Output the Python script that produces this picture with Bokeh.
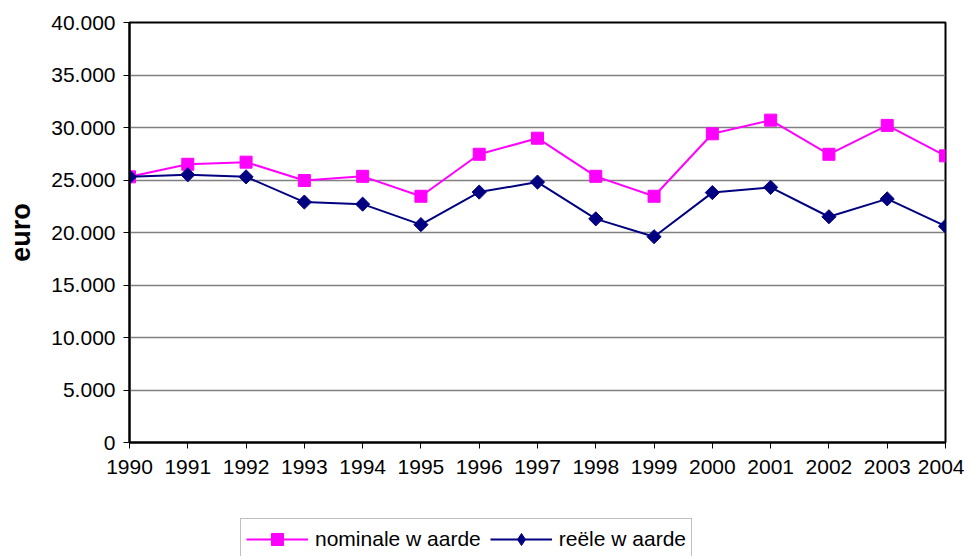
import math
from bokeh.plotting import figure
from bokeh.layouts import column
from bokeh.models import FixedTicker, Legend, LegendItem
from bokeh.embed import file_html
from bokeh.resources import INLINE

years = list(range(1990, 2005))
nominale = [25300, 26500, 26700, 24950, 25350, 23450, 27450, 28980, 25350, 23450, 29400, 30700, 27450, 30200, 27300]
reele = [25300, 25500, 25300, 22900, 22700, 20750, 23850, 24800, 21300, 19600, 23800, 24300, 21500, 23200, 20600]
y_ticks = [0, 5000, 10000, 15000, 20000, 25000, 30000, 35000, 40000]
y_tick_labels = ["0", "5.000", "10.000", "15.000", "20.000", "25.000", "30.000", "35.000", "40.000"]
series_names = ["nominale w aarde", "reële w aarde"]

FONT = "Liberation Sans"
PINK = "#FF00FF"
NAVY = "#000080"

p = figure(width=964, height=500, output_backend="svg", toolbar_location=None,
           x_range=(1990, 2004), y_range=(0, 40000),
           min_border_left=129, min_border_right=19, min_border_top=22, min_border_bottom=58)
p.background_fill_color = "white"
p.border_fill_color = "white"
p.outline_line_color = "black"
p.outline_line_width = 2

p.xgrid.visible = False
p.ygrid.grid_line_color = "#808080"
p.ygrid.grid_line_width = 1.5
p.ygrid.ticker = FixedTicker(ticks=y_ticks)

p.yaxis.ticker = FixedTicker(ticks=y_ticks)
p.yaxis.major_label_overrides = {t: l for t, l in zip(y_ticks, y_tick_labels)}
p.xaxis.ticker = FixedTicker(ticks=years)
p.xaxis.major_label_overrides = {y: str(y) for y in years}

for ax in (p.xaxis, p.yaxis):
    ax.axis_line_color = "black"
    ax.axis_line_width = 2
    ax.major_tick_line_color = "black"
    ax.major_tick_line_width = 1
    ax.major_tick_in = 0
    ax.major_tick_out = 6
    ax.minor_tick_line_color = None
    ax.major_label_text_font = FONT
    ax.major_label_text_font_size = "21px"
    ax.major_label_text_color = "black"

p.xaxis.major_label_standoff = 11
p.yaxis.major_label_standoff = 8
p.yaxis.axis_label = "euro"
p.yaxis.axis_label_text_font = FONT
p.yaxis.axis_label_text_font_style = "bold"
p.yaxis.axis_label_text_font_size = "27px"
p.yaxis.axis_label_text_color = "black"
p.yaxis.axis_label_standoff = 12

p.line(years, nominale, line_color=PINK, line_width=2)
p.scatter(years, nominale, marker="square", size=12, fill_color=PINK, line_color=PINK)
p.line(years, reele, line_color=NAVY, line_width=2)
p.scatter(years, reele, marker="square", size=10, angle=math.pi / 4,
          fill_color=NAVY, line_color=NAVY)

# legend strip below the chart (proxy renderers hold no visible data)
lg = figure(width=964, height=56, output_backend="svg", toolbar_location=None,
            x_range=(0, 1), y_range=(0, 1), x_axis_location=None, y_axis_location=None,
            min_border_left=0, min_border_right=0, min_border_top=0, min_border_bottom=0)
lg.grid.visible = False
lg.outline_line_color = None
lg.background_fill_color = "white"
lg.border_fill_color = "white"

nan = float("nan")
el1 = lg.line([nan], [nan], line_color=PINK, line_width=2)
es1 = lg.scatter([nan], [nan], marker="square", fill_color=PINK, line_color=PINK)
el2 = lg.line([nan], [nan], line_color=NAVY, line_width=2)
es2 = lg.scatter([nan], [nan], marker="diamond", fill_color=NAVY, line_color=NAVY)

legend = Legend(items=[LegendItem(label=series_names[0], renderers=[el1, es1]),
                       LegendItem(label=series_names[1], renderers=[el2, es2])],
                orientation="horizontal", location=(111, -4),
                label_text_font=FONT, label_text_font_size="21px", label_text_color="black",
                glyph_width=62, glyph_height=30, label_standoff=7, spacing=9,
                padding=5, margin=0,
                border_line_color="#808080", border_line_width=1,
                background_fill_color="white", background_fill_alpha=1)
lg.add_layout(legend, "center")

layout = column(p, lg, spacing=0)
open("out.html", "w").write(file_html(layout, INLINE))
